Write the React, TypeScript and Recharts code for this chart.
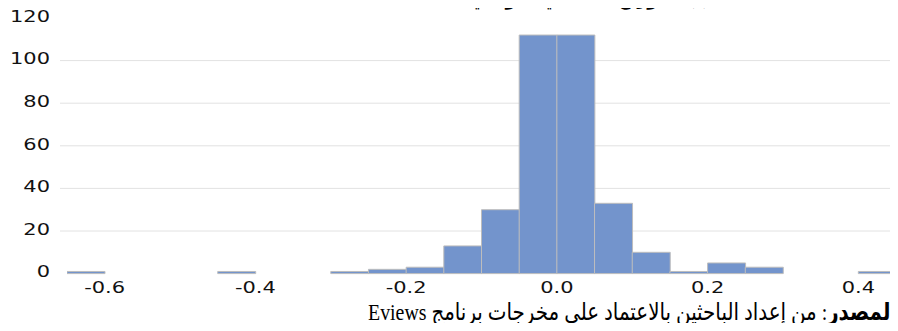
import React, { useLayoutEffect, useRef, useState } from 'react';
import { ComposedChart, Bar, XAxis, YAxis, CartesianGrid } from 'recharts';

// Histogram bins (centres of 0.05-wide bins) and counts
const binCenters = [
  -0.625, -0.575, -0.525, -0.475, -0.425, -0.375, -0.325, -0.275, -0.225, -0.175, -0.125,
  -0.075, -0.025, 0.025, 0.075, 0.125, 0.175, 0.225, 0.275, 0.325, 0.375, 0.425,
];
const counts = [1, 0, 0, 0, 1, 0, 0, 1, 2, 3, 13, 30, 112, 112, 33, 10, 1, 5, 3, 0, 0, 1];
const xTicks = [-0.6, -0.4, -0.2, 0.0, 0.2, 0.4];
const yTicks = [0, 20, 40, 60, 80, 100, 120];
const gridValues = [20, 40, 60, 80, 100];

const titleText = 'الشكل (3): التوزيع الطبيعي للبواقي';
const sourceLabel = 'المصدر';
const sourceText = ': من إعداد الباحثين بالاعتماد على مخرجات برنامج Eviews';

const data = binCenters.map((c, i) => ({ x: c, count: counts[i] }));

const YTick = (props: any) => {
  const { x, y, payload } = props;
  return (
    <g transform={`translate(${x},${y})`}>
      <text
        transform="scale(1.4,1)"
        x={0}
        y={0}
        dy={-1.5}
        textAnchor="end"
        dominantBaseline="central"
        fontSize={15}
        fontFamily="DejaVu Sans"
        fill="#111"
      >
        {payload.value}
      </text>
    </g>
  );
};

const XTick = (props: any) => {
  const { x, y, payload } = props;
  return (
    <g transform={`translate(${x},${y})`}>
      <text
        transform="scale(1.4,1)"
        x={0}
        y={0}
        dy={14.5}
        textAnchor="middle"
        dominantBaseline="central"
        fontSize={15}
        fontFamily="DejaVu Sans"
        fill="#111"
      >
        {Number(payload.value).toFixed(1)}
      </text>
    </g>
  );
};

const ScaledText = ({ right, top, width, fontSize, children, style }: any) => {
  const ref = useRef<HTMLDivElement>(null);
  const [scale, setScale] = useState(1);
  useLayoutEffect(() => {
    if (ref.current) {
      const w = ref.current.scrollWidth;
      if (w > 0) setScale(width / w);
    }
  }, [width]);
  return (
    <div
      ref={ref}
      dir="rtl"
      style={{
        position: 'absolute',
        right,
        top,
        whiteSpace: 'nowrap',
        fontSize,
        lineHeight: `${fontSize + 4}px`,
        fontFamily: "'Liberation Serif', 'DejaVu Sans', serif",
        color: '#000',
        transform: `scaleX(${scale})`,
        transformOrigin: 'right center',
        ...style,
      }}
    >
      {children}
    </div>
  );
};

export default function App() {
  return (
    <div style={{ position: 'relative', width: 898, height: 331, margin: -8, background: '#fff', overflow: 'hidden' }}>
      <ComposedChart
        width={898}
        height={331}
        data={data}
        margin={{ top: 18, right: 0, bottom: 27.4, left: 0 }}
        barCategoryGap={0}
        barGap={0}
      >
        <CartesianGrid vertical={false} horizontalValues={gridValues} stroke="#e2e2e2" strokeWidth={1} />
        <XAxis
          dataKey="x"
          type="number"
          domain={[-0.65, 0.45]}
          allowDataOverflow
          ticks={xTicks}
          axisLine={false}
          tickLine={false}
          tickSize={0}
          tickMargin={0}
          height={30}
          padding={{ left: 7, right: 2 }}
          tick={<XTick />}
          interval={0}
        />
        <YAxis
          type="number"
          domain={[0, 120]}
          ticks={yTicks}
          axisLine={false}
          tickLine={false}
          tickSize={0}
          tickMargin={10}
          width={60}
          tick={<YTick />}
          interval={0}
        />
        <Bar dataKey="count" fill="#7394cc" stroke="#bdbdbd" strokeWidth={1} isAnimationActive={false} />
      </ComposedChart>
      <ScaledText right={128} top={-16} width={300} fontSize={22} style={{ fontWeight: 'bold' }}>
        {titleText}
      </ScaledText>
      <ScaledText right={1} top={298} width={529} fontSize={24}>
        <b>{sourceLabel}</b>
        {sourceText}
      </ScaledText>
    </div>
  );
}
